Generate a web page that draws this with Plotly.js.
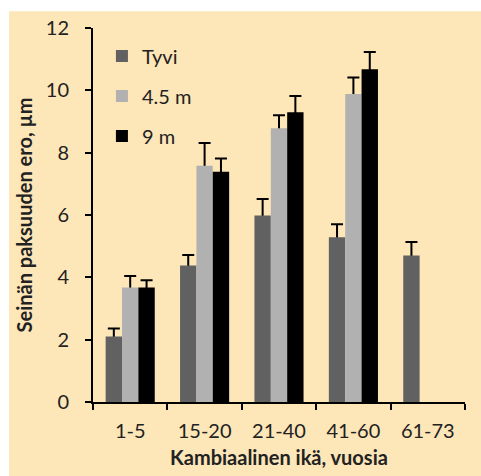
<!DOCTYPE html>
<html><head><meta charset="utf-8">
<script src="https://cdn.plot.ly/plotly-3.0.1.min.js"></script>
<style>body{margin:0;padding:0;background:#fff}#chart{width:481px;height:476px}</style>
</head><body><div id="chart"></div>
<script>
const categories = ["1-5", "15-20", "21-40", "41-60", "61-73"];
const seriesNames = ["Tyvi", "4.5 m", "9 m"];
const tyvi = [2.1, 4.38, 5.98, 5.29, 4.7];
const tyviErr = [0.26, 0.34, 0.53, 0.41, 0.43];
const m45 = [3.67, 7.58, 8.78, 9.88, null];
const m45Err = [0.37, 0.73, 0.42, 0.53, null];
const m9 = [3.67, 7.39, 9.30, 10.68, null];
const m9Err = [0.24, 0.42, 0.52, 0.55, null];
const yTicks = [0, 2, 4, 6, 8, 10, 12];

const colors = ["#616161", "#b1b1b1", "#000000"];
const FONT = "Lato, 'Open Sans', sans-serif";

// error-bar carrier traces (transparent bars, drawn first, covered by the visible bars)
function errTrace(y, err, g) {
  return {
    type: "bar", x: categories, y: y, offsetgroup: g, showlegend: false, hoverinfo: "skip",
    marker: {color: "rgba(0,0,0,0)", line: {width: 0}},
    error_y: {type: "data", array: err, arrayminus: err.map(v => v == null ? null : 0.15),
              symmetric: false, color: "#000", thickness: 2, width: 6}
  };
}
function barTrace(name, y, color, g) {
  return {
    type: "bar", name: name, x: categories, y: y, offsetgroup: g, legendgroup: g,
    marker: {color: color, line: {width: 0}}
  };
}
const data = [
  errTrace(tyvi, tyviErr, "a"),
  errTrace(m45, m45Err, "b"),
  errTrace(m9, m9Err, "c"),
  barTrace(seriesNames[0], tyvi, colors[0], "a"),
  barTrace(seriesNames[1], m45, colors[1], "b"),
  barTrace(seriesNames[2], m9, colors[2], "c")
];

const layout = {
  width: 481, height: 476,
  margin: {l: 93, r: 16, t: 28, b: 73.5},
  paper_bgcolor: "#ffffff",
  plot_bgcolor: "rgba(0,0,0,0)",
  barmode: "group", bargap: 0.34, bargroupgap: 0,
  font: {family: FONT, size: 20, color: "#222"},
  showlegend: true,
  legend: {x: 0.024, y: 0.977, xanchor: "left", yanchor: "top", bgcolor: "rgba(0,0,0,0)",
           traceorder: "grouped", tracegroupgap: 11, font: {size: 20, color: "#222"}},
  xaxis: {type: "category", showline: true, linecolor: "#000", linewidth: 2,
          ticks: "outside", tickson: "boundaries", ticklen: 6, tickwidth: 2, tickcolor: "#000",
          ticklabelstandoff: 10, showgrid: false, zeroline: false,
          title: {text: "<b>Kambiaalinen ikä, vuosia</b>", standoff: 10, font: {size: 20, color: "#222"}}},
  yaxis: {range: [0, 12], tickvals: yTicks, ticktext: yTicks.map(String), showline: true,
          linecolor: "#000", linewidth: 2, ticks: "outside", ticklen: 6, tickwidth: 2,
          tickcolor: "#000", ticklabelstandoff: 12, showgrid: false, zeroline: false,
          title: {text: "<b>Seinän paksuuden ero, µm</b>", standoff: 8, font: {size: 20, color: "#222"}}},
  shapes: [{type: "rect", xref: "paper", yref: "paper", layer: "below",
            x0: -0.2258, x1: 1.05, y0: -0.2, y1: 1.0446,
            fillcolor: "#fde6b8", line: {width: 0}}]
};
Plotly.newPlot("chart", data, layout, {displayModeBar: false, staticPlot: true});
</script></body></html>
